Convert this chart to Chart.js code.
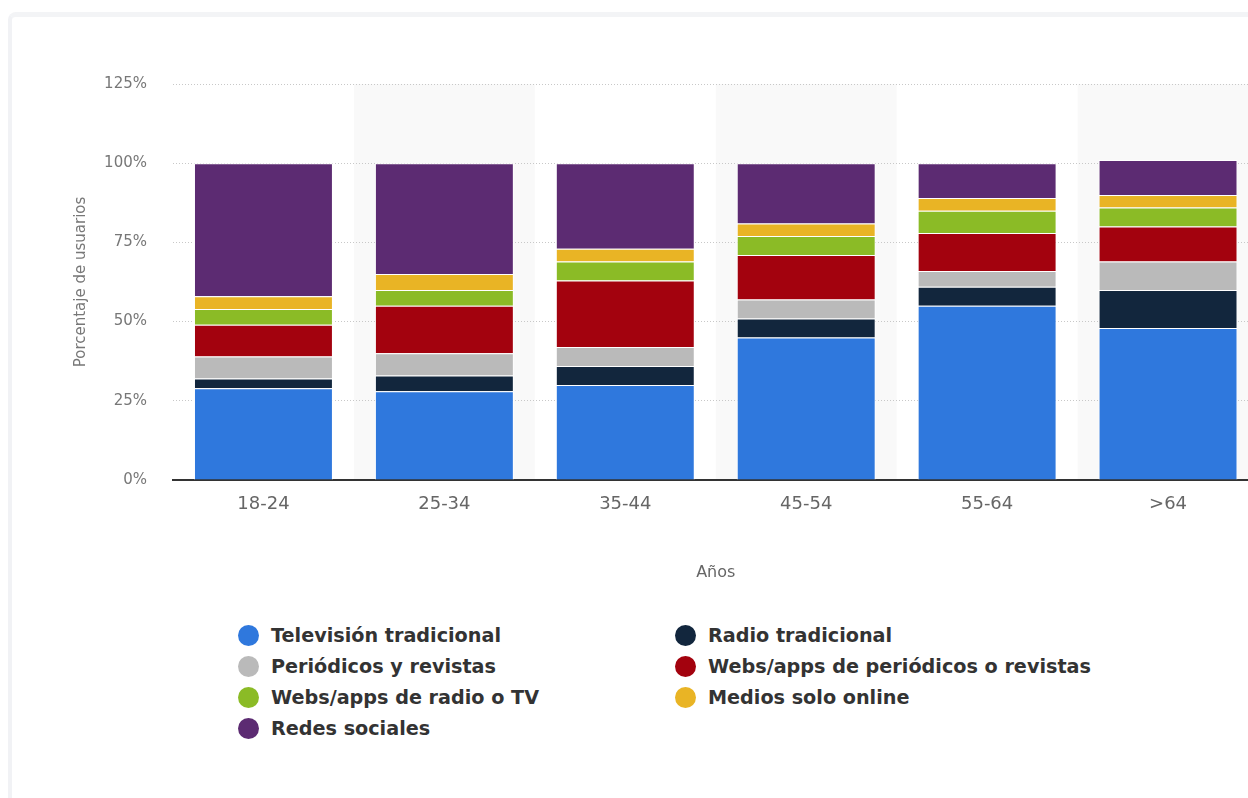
<!DOCTYPE html>
<html>
<head>
<meta charset="utf-8">
<script src="https://cdn.jsdelivr.net/npm/chart.js@4.4.1/dist/chart.umd.min.js"></script>
<style>
  html, body { margin:0; padding:0; background:#fff; overflow:hidden; width:1248px; height:798px; }
  #card { position:absolute; left:8px; top:12px; width:1320px; height:900px; box-sizing:border-box;
          border-top:5px solid #f3f4f6; border-left:4px solid #f1f2f5; border-radius:8px 0 0 0; background:#fff; }
  #wrap { position:absolute; left:0; top:0; width:1270px; height:586px; }
  #legend { position:absolute; left:238px; top:620px; display:grid; grid-template-columns:437px 520px;
            font-family:"DejaVu Sans", sans-serif; font-weight:bold; font-size:19.2px; color:#333; }
  .item { display:flex; align-items:center; height:31px; white-space:nowrap; }
  .dot { width:21px; height:21px; border-radius:50%; margin-right:12px; flex:none; }
</style>
</head>
<body>
<div id="card"></div>
<div id="wrap"><canvas id="c"></canvas></div>
<div id="legend"></div>
<script>
const categories = ["18-24", "25-34", "35-44", "45-54", "55-64", ">64"];
const seriesNames = ["Televisión tradicional", "Radio tradicional", "Periódicos y revistas",
  "Webs/apps de periódicos o revistas", "Webs/apps de radio o TV", "Medios solo online", "Redes sociales"];
const television = [29, 28, 30, 45, 55, 48];
const radio      = [3, 5, 6, 6, 6, 12];
const periodicos = [7, 7, 6, 6, 5, 9];
const websPeriodicos = [10, 15, 21, 14, 12, 11];
const websRadioTV = [5, 5, 6, 6, 7, 6];
const mediosOnline = [4, 5, 4, 4, 4, 4];
const redes = [42, 35, 27, 19, 11, 11];
const yTicks = [0, 25, 50, 75, 100, 125];
const colors = ["#2f78dd", "#12263d", "#bababa", "#a3020e", "#8bbb26", "#e9b425", "#5c2b72"];
const seriesValues = [television, radio, periodicos, websPeriodicos, websRadioTV, mediosOnline, redes];

const bandPlugin = {
  id: 'bands',
  beforeDraw(chart) {
    const {ctx, chartArea, scales: {x}} = chart;
    ctx.save();
    ctx.fillStyle = '#f9f9f9';
    const n = categories.length;
    const w = (chartArea.right - chartArea.left) / n;
    for (let i = 1; i < n; i += 2) {
      const cx = x.getPixelForValue(i);
      ctx.fillRect(cx - w / 2, chartArea.top, w, chartArea.bottom - chartArea.top);
    }
    ctx.restore();
  }
};

new Chart(document.getElementById('c'), {
  type: 'bar',
  data: {
    labels: categories,
    datasets: seriesValues.map((vals, i) => ({
      label: seriesNames[i],
      data: vals,
      backgroundColor: colors[i],
      borderColor: '#ffffff',
      borderWidth: 1,
      barPercentage: 0.768,
      categoryPercentage: 1
    }))
  },
  options: {
    responsive: true,
    maintainAspectRatio: false,
    animation: false,
    layout: { padding: { top: 84, left: 68, right: 11.5, bottom: 0 } },
    plugins: { legend: { display: false }, tooltip: { enabled: false } },
    scales: {
      x: {
        stacked: true,
        grid: { display: false, drawTicks: false },
        border: { display: true, color: '#333333', width: 2 },
        ticks: { color: '#666', font: { family: 'DejaVu Sans', size: 18 }, padding: 14, autoSkip: false, maxRotation: 0 },
        title: { display: true, text: 'Años', color: '#666', font: { family: 'DejaVu Sans', size: 16 }, padding: { top: 4, bottom: 4 } },
        afterFit(s) { s.height = 106; }
      },
      y: {
        stacked: true,
        min: 0, max: 125,
        afterBuildTicks(s) { s.ticks = yTicks.map(v => ({ value: v })); },
        grid: { color: '#c8c8c8', lineWidth: 1, drawTicks: false },
        border: { display: false, dash: [1, 2] },
        ticks: { color: '#777', font: { family: 'DejaVu Sans', size: 15 }, padding: 26, callback: v => v + '%' },
        title: { display: true, text: 'Porcentaje de usuarios', color: '#777', font: { family: 'DejaVu Sans', size: 15 }, padding: { top: 4, bottom: 4 } },
        afterFit(s) { s.width = 105; }
      }
    }
  },
  plugins: [bandPlugin]
});

const legend = document.getElementById('legend');
seriesNames.forEach((name, i) => {
  const d = document.createElement('div');
  d.className = 'item';
  d.innerHTML = '<span class="dot" style="background:' + colors[i] + '"></span><span></span>';
  d.lastChild.textContent = name;
  legend.appendChild(d);
});
</script>
</body>
</html>
